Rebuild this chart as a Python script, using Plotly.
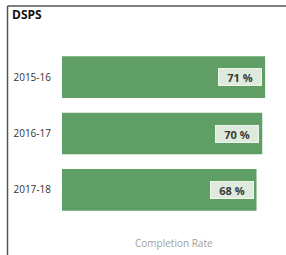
import plotly.graph_objects as go

categories = ["2015-16", "2016-17", "2017-18"]
completion = [71, 70, 68]
value_labels = ["71 %", "70 %", "68 %"]

W, H = 286, 255
L, R, T, B = 62, 0, 49, 37
pw, ph = W - L - R, H - T - B

fig = go.Figure(go.Bar(
    x=completion, y=categories, orientation="h",
    marker=dict(color="#5f9f66", line=dict(width=0)),
    hoverinfo="skip",
))

annotations = []
for c, v, lab in zip(categories, completion, value_labels):
    annotations.append(dict(
        x=v, y=c, xref="x", yref="y", text="<b>" + lab + "</b>", showarrow=False,
        xanchor="right", yanchor="middle", xshift=-3,
        font=dict(family="Open Sans", size=11, color="#3a3a3a"),
        bgcolor="#deebdc", bordercolor="#eef5ee", borderwidth=1,
        width=38, height=12, borderpad=2, align="center",
    ))

annotations.append(dict(
    x=0.5, y=-(243 - (T + ph)) / ph, xref="paper", yref="paper",
    text="Completion Rate", showarrow=False, xanchor="center", yanchor="middle",
    font=dict(family="Open Sans", size=10, color="#a0a0a0"),
))

fig.update_layout(
    width=W, height=H,
    margin=dict(l=L, r=R, t=T, b=B, pad=0),
    paper_bgcolor="white", plot_bgcolor="white",
    bargap=0.26,
    showlegend=False,
    title=dict(text="<b>DSPS</b>", xref="container", yref="container",
               x=12 / W, y=1 - 15 / H, xanchor="left", yanchor="middle",
               font=dict(family="Open Sans", size=12, color="#111111")),
    xaxis=dict(range=[0, 78.3], showticklabels=False, showgrid=False,
               zeroline=False, showline=False, ticks=""),
    yaxis=dict(autorange="reversed", showgrid=False, zeroline=False, showline=False,
               ticks="outside", ticklen=8, tickcolor="rgba(0,0,0,0)",
               tickfont=dict(family="Open Sans", size=10, color="#333333")),
    annotations=annotations,
    shapes=[
        dict(type="line", xref="paper", yref="paper",
             x0=(7.5 - L) / pw, x1=(W - L) / pw,
             y0=(H - B - 6) / ph, y1=(H - B - 6) / ph,
             line=dict(color="#555555", width=1.5)),
        dict(type="line", xref="paper", yref="paper",
             x0=(7.5 - L) / pw, x1=(7.5 - L) / pw,
             y0=(H - B - 6) / ph, y1=-B / ph,
             line=dict(color="#555555", width=1.5)),
    ],
)

fig.write_html(
    "out.html",
    config={"displayModeBar": False},
    post_script="document.body.style.margin='0';document.body.style.overflow='hidden';",
)
